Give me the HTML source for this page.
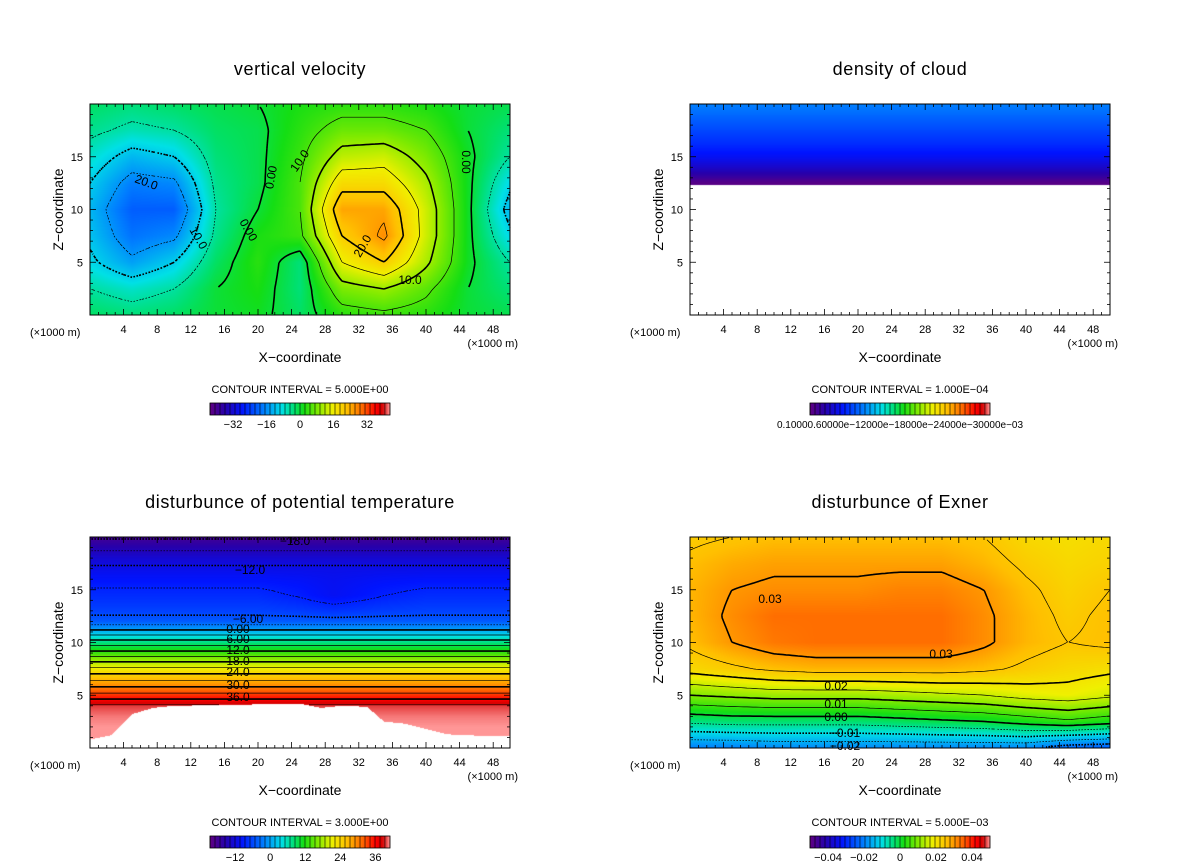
<!DOCTYPE html>
<html><head><meta charset="utf-8">
<style>
html,body{margin:0;padding:0;background:#fff;}
#root{position:relative;width:1200px;height:868px;overflow:hidden;font-family:"Liberation Sans",sans-serif;}
canvas{position:absolute;}
svg{position:absolute;left:0;top:0;}
</style></head>
<body>
<div id="root">
<canvas id="c1" width="420" height="211" style="left:90px;top:104px"></canvas>
<canvas id="c2" width="420" height="211" style="left:690px;top:104px"></canvas>
<canvas id="c3" width="420" height="211" style="left:90px;top:537px"></canvas>
<canvas id="c4" width="420" height="211" style="left:690px;top:537px"></canvas>
<svg id="ov" width="1200" height="868"></svg>
</div>
<script>
// ---- data ----
const gridX = [0,5,10,15,20,25,30,35,40,45,50];
const gridZ = [20,17.5,15,12.5,10,7.5,5,2.5,0];
const wValues = [
 [-2,-3,-2,-1,0,2,3,3,2,0,-1],
 [-4,-6,-5,-2,-1,3,7,7,5,0,-3],
 [-7,-12,-10,-3,-1,4,12,13,8,1,-5],
 [-10,-17,-16,-4,-1,5,18,18,11,1,-9],
 [-12,-20,-20,-5,0,5,24,24,13,1,-12],
 [-11,-18,-16,-4,2,4,20,26,13,1,-9],
 [-9,-14,-10,-2,3,-3,15,20,11,1,-5],
 [-5,-7,-5,0,2,-3,8,10,6,0,-3],
 [-2,-3,-2,0,1,-2,3,4,3,0,-1]];
const exnerValues = [
 [.024,.025,.026,.026,.026,.026,.026,.025,.022,.021,.022],
 [.026,.028,.029,.029,.029,.029,.029,.027,.024,.022,.023],
 [.027,.030,.031,.031,.031,.032,.032,.030,.026,.023,.025],
 [.027,.031,.034,.034,.034,.034,.034,.031,.027,.024,.026],
 [.026,.030,.033,.034,.034,.034,.034,.031,.027,.025,.026],
 [.022,.024,.026,.027,.027,.027,.027,.026,.024,.022,.021],
 [.010,.011,.012,.012,.012,.013,.014,.015,.017,.018,.016],
 [-.004,-.003,-.003,-.003,-.003,-.002,-.001,0,.002,.004,.002],
 [-.020,-.020,-.019,-.019,-.019,-.019,-.019,-.019,-.019,-.023,-.024]];
const thetaZ = [0,1,2,3,4,5,6,7,8,9,10,11,12,13,14,15,16,17,18,19,20];
const thetaProfile = [41,41,41,40.5,39.5,34,29,24.2,19,13,7.5,1.2,-5,-6.7,-7.8,-8.8,-10,-11.5,-13.2,-15.8,-18.5];
const dipX = [0,20,25,29,35,40,50];
const dipValues = [0,0,-1,-2.5,-0.8,0,0];
const whiteX = [0,2.5,5,7.5,10,25,27.5,30,33,35,37.5,40,42.5,45,50];
const whiteTop = [0.8,1.2,3.2,3.8,4,4.2,3.8,4,3.9,2.5,2.3,1.8,1.3,1.2,1.1];
const cloudZ = [12.3,12.6,13.2,14,15,16,18,20];
const cloudValues = [0.00003,0.00005,0.0002,0.00035,0.0005,0.0006,0.00075,0.0009];
const xTicks = [4,8,12,16,20,24,28,32,36,40,44,48];
const zTicks = [5,10,15];
const cb1Labels = ["\u221232","\u221216","0","16","32"];
const cb1Vals = [-32,-16,0,16,32];
const cb3Labels = ["\u221212","0","12","24","36"];
const cb3Vals = [-12,0,12,24,36];
const cb4Labels = ["\u22120.04","\u22120.02","0","0.02","0.04"];
const cb4Vals = [-0.04,-0.02,0,0.02,0.04];

// ---- helpers ----
const stops=[[0,[96,0,128]],[0.08,[40,0,170]],[0.18,[0,20,255]],[0.30,[0,128,255]],[0.40,[0,224,230]],[0.47,[0,224,110]],[0.52,[20,222,20]],[0.60,[130,235,0]],[0.68,[240,240,0]],[0.76,[255,192,0]],[0.85,[255,100,0]],[0.92,[255,0,0]],[0.96,[210,0,0]],[1,[255,150,150]]];
function cmap(t){t=Math.max(0,Math.min(1,t));for(let i=1;i<stops.length;i++){if(t<=stops[i][0]){const a=stops[i-1],b=stops[i];const f=(t-a[0])/(b[0]-a[0]);return a[1].map((v,k)=>Math.round(v+(b[1][k]-v)*f));}}return stops[stops.length-1][1];}
function interp1(xs,ys,x){if(x<=xs[0])return ys[0];for(let i=1;i<xs.length;i++){if(x<=xs[i]){const f=(x-xs[i-1])/(xs[i]-xs[i-1]);return ys[i-1]+(ys[i]-ys[i-1])*f;}}return ys[ys.length-1];}
function grid2(vals,x,z){const col=gridX.map((_,j)=>interp1(gridZ.slice().reverse(),vals.map(r=>r[j]).reverse(),z));return interp1(gridX,col,x);}
const W=420,H=211;
const px=x=>x/50*W, pz=z=>H-z/20*H;
const fW=(x,z)=>grid2(wValues,x,z);
const fE=(x,z)=>grid2(exnerValues,x,z);
function fT(x,z){if(z<interp1(whiteX,whiteTop,x))return NaN;const d=interp1(dipX,dipValues,x)*Math.max(0,1-Math.abs(z-14.5)/2.5);return interp1(thetaZ,thetaProfile,z)+d;}
function fC(x,z){if(z<cloudZ[0])return NaN;return interp1(cloudZ,cloudValues,z);}
function paint(id,f,vmin,vmax){const c=document.getElementById(id).getContext('2d');const im=c.createImageData(W,H);for(let j=0;j<H;j++)for(let i=0;i<W;i++){const v=f((i+0.5)/W*50,20-(j+0.5)/H*20);const k=(j*W+i)*4;if(isNaN(v)){im.data[k]=im.data[k+1]=im.data[k+2]=255;}else{const col=cmap((v-vmin)/(vmax-vmin));im.data[k]=col[0];im.data[k+1]=col[1];im.data[k+2]=col[2];}im.data[k+3]=255;}c.putImageData(im,0,0);}
const NS='http://www.w3.org/2000/svg';const ov=document.getElementById('ov');
function el(tag,attrs,parent){const e=document.createElementNS(NS,tag);for(const k in attrs)e.setAttribute(k,attrs[k]);(parent||ov).appendChild(e);return e;}
function txt(s,x,y,size,anchor,rot,parent){const t=el('text',{x:x,y:y,'font-size':size,'text-anchor':anchor||'middle','font-family':'Liberation Sans, sans-serif',fill:'#000'},parent);if(rot)t.setAttribute('transform','rotate('+rot+' '+x+' '+y+')');t.textContent=s;return t;}
function contours(f,x0,y0,levels,thickEvery,g){const st=3,nx=Math.round(W/st),nz=Math.round(H/st);const V=[];for(let j=0;j<=nz;j++){V.push([]);for(let i=0;i<=nx;i++)V[j].push(f(i*st/W*50,20-j*st/H*20));}
 levels.forEach(L=>{let d='';for(let j=0;j<nz;j++)for(let i=0;i<nx;i++){const a=V[j][i],b=V[j][i+1],c=V[j+1][i+1],e=V[j+1][i];if([a,b,c,e].some(isNaN))continue;const pts=[];const X=i*st,Y=j*st;
  if((a-L)*(b-L)<0)pts.push([X+st*(L-a)/(b-a),Y]);
  if((b-L)*(c-L)<0)pts.push([X+st,Y+st*(L-b)/(c-b)]);
  if((e-L)*(c-L)<0)pts.push([X+st*(L-e)/(c-e),Y+st]);
  if((a-L)*(e-L)<0)pts.push([X,Y+st*(L-a)/(e-a)]);
  for(let p=0;p+1<pts.length;p+=2)d+='M'+(x0+pts[p][0]).toFixed(1)+' '+(y0+pts[p][1]).toFixed(1)+'L'+(x0+pts[p+1][0]).toFixed(1)+' '+(y0+pts[p+1][1]).toFixed(1);}
  if(!d)return;const thick=Math.abs(Math.round(L/thickEvery)*thickEvery-L)<1e-9;const p=el('path',{d:d,fill:'none',stroke:'#000','stroke-width':thick?1.6:0.7},g);if(L<-1e-9)p.setAttribute('stroke-dasharray','1.6 1.6');
  
  });}
function axes(x0,y0,title,ci,cbVals,cbLabels,cbMin,cbMax,name){const g=el('g',{});
 
 
 el('rect',{x:x0,y:y0,width:W,height:H,fill:'none',stroke:'#000','stroke-width':1},g);
 for(let x=1;x<50;x++){const X=x0+px(x);const L=(x%4==0)?6:3;el('line',{x1:X,y1:y0+H,x2:X,y2:y0+H-L,stroke:'#000','stroke-width':0.8},g);el('line',{x1:X,y1:y0,x2:X,y2:y0+L,stroke:'#000','stroke-width':0.8},g);}
 for(let z=1;z<20;z++){const Y=y0+pz(z);const L=(z%5==0)?6:3;el('line',{x1:x0,y1:Y,x2:x0+L,y2:Y,stroke:'#000','stroke-width':0.8},g);el('line',{x1:x0+W,y1:Y,x2:x0+W-L,y2:Y,stroke:'#000','stroke-width':0.8},g);}
 xTicks.forEach(x=>{const t=txt(String(x),x0+px(x),y0+H+18,11,'middle',0,g);});
 zTicks.forEach(z=>{const t=txt(String(z),x0-7,y0+pz(z)+4,11,'end',0,g);});
 const tt=txt(title,x0+W/2,y0-29,18,'middle',0,g);tt.setAttribute('letter-spacing','0.6');
 const yl=txt('Z\u2212coordinate',x0-27,y0+H/2,14,'middle',-90,g);
 const xl=txt('X\u2212coordinate',x0+W/2,y0+H+47,14,'middle',0,g);
 const u1=txt('(\u00d71000 m)',x0-60,y0+H+21,11,'start',0,g);
 const u2=txt('(\u00d71000 m)',x0+W+8,y0+H+32,11,'end',0,g);
 const ct=txt(ci,x0+W/2,y0+H+78,11,'middle',0,g);
 const cx=x0+120,cy=y0+H+88,cw=180,ch=12,n=72;
 const cb=el('g',{},g);
 for(let i=0;i<n;i++){const col=cmap((i+0.5)/n);el('rect',{x:cx+i*cw/n,y:cy,width:cw/n+0.2,height:ch,fill:'rgb('+col.join(',')+')'},cb);if(i%2==0)el('line',{x1:cx+i*cw/n,y1:cy,x2:cx+i*cw/n,y2:cy+ch,stroke:'#000','stroke-width':0.6},cb);}
 el('rect',{x:cx,y:cy,width:cw,height:ch,fill:'none',stroke:'#000','stroke-width':0.8},cb);
 if(cbVals){cbVals.forEach((v,i)=>{const t=txt(cbLabels[i],cx+(v-cbMin)/(cbMax-cbMin)*cw,cy+ch+13,11,'middle',0,cb);});}
 return g;}

// ---- render ----
paint('c1',fW,-42,42);paint('c2',fC,0,0.003);paint('c3',fT,-21,41);paint('c4',fE,-0.05,0.05);
const g1=axes(90,104,'vertical velocity','CONTOUR INTERVAL = 5.000E+00',cb1Vals,cb1Labels,-43,43,'vertical-velocity');
const g2=axes(690,104,'density of cloud','CONTOUR INTERVAL = 1.000E\u221204',null,null,0,1,'cloud-density');
const g3=axes(90,537,'disturbunce of potential temperature','CONTOUR INTERVAL = 3.000E+00',cb3Vals,cb3Labels,-20.6,41,'potential-temperature');
const g4=axes(690,537,'disturbunce of Exner','CONTOUR INTERVAL = 5.000E\u221203',cb4Vals,cb4Labels,-0.05,0.05,'exner');
const cbt=txt('0.10000.60000e\u221212000e\u221218000e\u221224000e\u221230000e\u221203',900,428,10,'middle',0,g2);
const lv1=[];for(let v=-40;v<=40;v+=5)lv1.push(v);contours(fW,90,104,lv1,10,g1);
const lv3=[];for(let v=-18;v<=39;v+=3)lv3.push(v);contours(fT,90,537,lv3,6,g3);
const lv4=[];for(let v=-0.03;v<=0.0351;v+=0.005)lv4.push(Math.round(v*1000)/1000);contours(fE,690,537,lv4,0.01,g4);
[['20.0',145,186,20],['10.0',195,240,60],['0.00',275,178,-80],['10.0',303,163,-55],['0.00',245,232,60],['20.0',366,248,-60],['10.0',410,284,0],['0.00',462,162,90]].forEach(a=>{const t=txt(a[0],a[1],a[2],12,'middle',a[3],g1);});
[['\u221218.0',295,545],['\u221212.0',250,574],['\u22126.00',248,623],['0.00',238,633],['6.00',238,643],['12.0',238,654],['18.0',238,665],['24.0',238,676],['30.0',238,689],['36.0',238,701]].forEach(a=>{const t=txt(a[0],a[1],a[2],12,'middle',0,g3);});
[['0.03',770,603],['0.03',941,658],['0.02',836,690],['0.01',836,708],['0.00',836,721],['\u22120.01',845,737],['\u22120.02',845,750]].forEach(a=>{const t=txt(a[0],a[1],a[2],12,'middle',0,g4);});
</script>
</body></html>
